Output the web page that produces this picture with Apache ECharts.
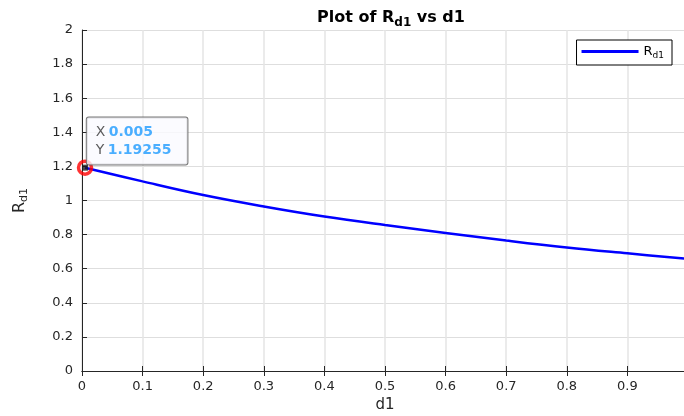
<!DOCTYPE html>
<html>
<head>
<meta charset="utf-8">
<script src="https://cdn.jsdelivr.net/npm/echarts@6/dist/echarts.min.js"></script>
<style>
  html, body { margin: 0; padding: 0; background: #fff; }
  #chart { width: 684px; height: 416px; }
</style>
</head>
<body>
<div id="chart"></div>
<script>
// values
const d1Values = [0.005, 0.1, 0.2, 0.3, 0.4, 0.5, 0.6, 0.7, 0.8, 0.9, 1.0]
const rd1Values = [1.19255, 1.112, 1.032, 0.965, 0.906, 0.856, 0.81, 0.765, 0.724, 0.69, 0.658]
const tipPoint = [0.005, 1.19255]

const axisColor = '#262626'
const font = 'DejaVu Sans, Liberation Sans, sans-serif'

const chart = echarts.init(document.getElementById('chart'))
chart.setOption({
  animation: false,
  title: {
    text: '{a|Plot of R}{b|d1}{a| vs d1}',
    left: 386,
    top: 2,
    textAlign: 'center',
    textStyle: {
      rich: {
        a: { fontFamily: font, fontWeight: 'bold', fontSize: 16, color: '#000' },
        b: { fontFamily: font, fontWeight: 'bold', fontSize: 12, color: '#000', padding: [10, 0, 0, 0] }
      }
    }
  },
  legend: {
    right: 12,
    top: 40,
    itemWidth: 57,
    itemHeight: 3,
    itemGap: 4,
    padding: [5, 8, 5, 5],
    backgroundColor: '#fff',
    borderColor: '#000',
    borderWidth: 1,
    borderRadius: 0,
    icon: 'rect',
    data: [{ name: 'Rd1' }],
    formatter: () => '{a|R}{b|d1}',
    textStyle: {
      rich: {
        a: { fontFamily: font, fontSize: 13, color: '#000' },
        b: { fontFamily: font, fontSize: 9, color: '#000', padding: [8, 0, 0, 0] }
      }
    }
  },
  grid: {
    left: 82,
    right: -4,
    top: 30,
    bottom: 45,
    outerBoundsMode: 'none'
  },
  xAxis: [
    {
      type: 'value',
      min: 0,
      max: 1,
      interval: 0.1,
      name: 'd1',
      nameLocation: 'middle',
      nameGap: 27,
      nameTextStyle: { fontFamily: font, fontSize: 15, color: axisColor },
      axisLine: { show: true, onZero: false, lineStyle: { color: axisColor, width: 1 } },
      axisTick: { show: true, inside: true, length: 5, lineStyle: { color: axisColor } },
      axisLabel: { fontFamily: font, fontSize: 13, color: axisColor, margin: 9 },
      splitLine: { show: true, lineStyle: { color: '#e4e4e4', width: 1.5 } }
    },
    {
      type: 'value',
      position: 'top',
      min: 0,
      max: 1,
      interval: 0.1,
      axisLine: { show: true, lineStyle: { color: axisColor, width: 1 } },
      axisTick: { show: true, inside: true, length: 5, lineStyle: { color: axisColor } },
      axisLabel: { show: false },
      splitLine: { show: false }
    }
  ],
  yAxis: {
    type: 'value',
    min: 0,
    max: 2,
    interval: 0.2,
    name: '{a|R}{b|d1}',
    nameLocation: 'middle',
    nameGap: 52,
    nameTextStyle: {
      rich: {
        a: { fontFamily: font, fontSize: 16, color: axisColor },
        b: { fontFamily: font, fontSize: 11, color: axisColor, padding: [10, 0, 0, 0] }
      }
    },
    axisLine: { show: true, lineStyle: { color: axisColor, width: 1 } },
    axisTick: { show: true, inside: true, length: 5, lineStyle: { color: axisColor } },
    axisLabel: {
      fontFamily: font,
      fontSize: 13,
      color: axisColor,
      margin: 9,
      formatter: v => String(Math.round(v * 10) / 10)
    },
    splitLine: { show: true, lineStyle: { color: '#dedede', width: 1 } }
  },
  series: [
    {
      name: 'Rd1',
      type: 'line',
      data: d1Values.map((x, i) => [x, rd1Values[i]]),
      smooth: 0.4,
      showSymbol: false,
      color: '#0000ff',
      lineStyle: { color: '#0000ff', width: 2.5 }
    },
    {
      name: 'tipRing',
      type: 'scatter',
      data: [tipPoint],
      symbol: 'circle',
      symbolSize: 13,
      itemStyle: { color: 'rgba(0,0,0,0)', borderColor: '#ff0000', borderWidth: 3.5 },
      z: 5,
      label: {
        show: true,
        position: [10, 5],
        align: 'left',
        verticalAlign: 'bottom',
        formatter: '{k|X} {v|0.005}\n{k|Y} {v|1.19255}',
        backgroundColor: '#fafaff',
        borderColor: '#555',
        borderWidth: 1,
        borderRadius: 2,
        padding: [6, 16, 5, 9],
        rich: {
          k: { fontFamily: font, fontSize: 14, color: '#333', lineHeight: 18 },
          v: { fontFamily: font, fontSize: 14, fontWeight: 'bold', color: '#1e9bff', lineHeight: 18 }
        }
      }
    },
    {
      name: 'tipDot',
      type: 'scatter',
      data: [tipPoint],
      symbol: 'rect',
      symbolSize: 6,
      itemStyle: { color: '#1a1a1a' },
      z: 6
    }
  ]
})
</script>
</body>
</html>
